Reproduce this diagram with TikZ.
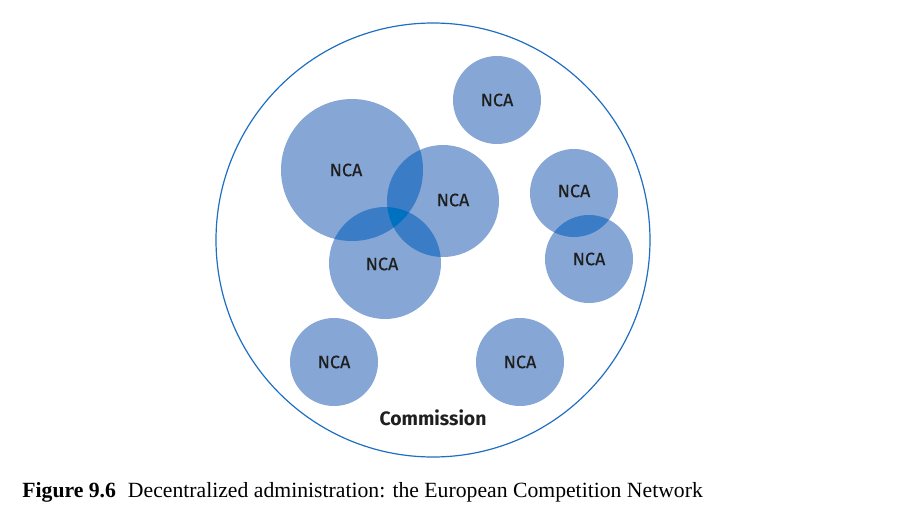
\documentclass[tikz,border=0pt]{standalone}
\usepackage{fontspec}
\setmainfont{Liberation Serif}
\setsansfont{Fira Sans}

\definecolor{ncafill}{RGB}{134,166,214}
\definecolor{ncatwo}{RGB}{58,125,198}
\definecolor{ncathree}{RGB}{0,112,192}
\definecolor{ringblue}{RGB}{31,111,192}

\begin{document}
\begin{tikzpicture}[x=0.5pt,y=-0.5pt,
  ncalabel/.style={font=\sffamily\fontsize{9}{10}\selectfont\addfontfeature{FakeBold=0.4},text=black!88},
  commlabel/.style={font=\sffamily\bfseries\fontsize{9.7}{12}\selectfont,text=black!88}]
  \useasboundingbox (0,0) rectangle (900,520);
  % the Commission
  \coordinate (Com) at (433,240);
  \draw[ringblue,line width=0.6pt] (Com) circle (217);
  % national authorities
  \coordinate (A) at (352,170);
  \coordinate (B) at (443,201);
  \coordinate (C) at (385,263);
  \coordinate (D) at (497,100);
  \coordinate (E) at (574,193);
  \coordinate (F) at (589,259);
  \coordinate (G) at (334,362);
  \coordinate (H) at (520,362);
  \fill[ncafill] (A) circle (71);
  \fill[ncafill] (B) circle (56);
  \fill[ncafill] (C) circle (56);
  \fill[ncafill] (D) circle (44);
  \fill[ncafill] (E) circle (44);
  \fill[ncafill] (F) circle (44);
  \fill[ncafill] (G) circle (44);
  \fill[ncafill] (H) circle (44);
  % overlaps
  \begin{scope}
    \clip (A) circle (71);
    \fill[ncatwo] (B) circle (56);
    \fill[ncatwo] (C) circle (56);
  \end{scope}
  \begin{scope}
    \clip (B) circle (56);
    \fill[ncatwo] (C) circle (56);
  \end{scope}
  \begin{scope}
    \clip (A) circle (71);
    \clip (B) circle (56);
    \fill[ncathree] (C) circle (56);
  \end{scope}
  \begin{scope}
    \clip (E) circle (44);
    \fill[ncatwo] (F) circle (44);
  \end{scope}
  % labels
  \node[ncalabel] (ncaA) at (346,170) {NCA};
  \node[ncalabel] (ncaB) at (453,200) {NCA};
  \node[ncalabel] (ncaC) at (382,264) {NCA};
  \node[ncalabel] (ncaD) at (D) {NCA};
  \node[ncalabel] (ncaE) at (574,191) {NCA};
  \node[ncalabel] (ncaF) at (F) {NCA};
  \node[ncalabel] (ncaG) at (G) {NCA};
  \node[ncalabel] (ncaH) at (H) {NCA};
  \node[commlabel] (comm) at (433,418) {Commission};
  \node[anchor=base west,inner sep=0pt,font=\fontsize{10.85}{13}\selectfont] (caption) at (22,497)
    {\textbf{Figure 9.6}\hspace{0.55em}Decentralized administration: the European Competition Network};
\end{tikzpicture}
\end{document}
